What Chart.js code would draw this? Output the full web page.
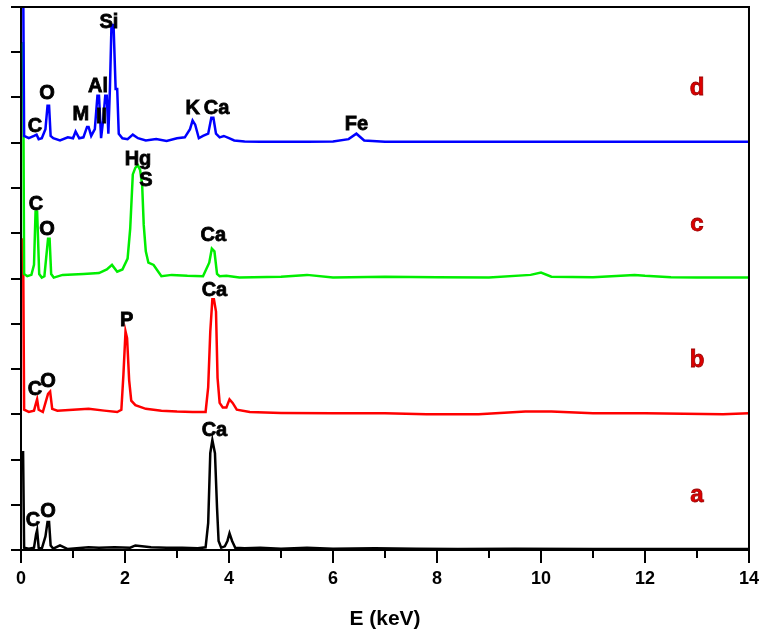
<!DOCTYPE html>
<html>
<head>
<meta charset="utf-8">
<script src="https://cdn.jsdelivr.net/npm/chart.js@4.4.0/dist/chart.umd.min.js"></script>
<style>
  html, body { margin: 0; padding: 0; background: #fff; }
  #wrap { width: 764px; height: 632px; }
</style>
</head>
<body>
<div id="wrap"><canvas id="edsChart" width="764" height="632"></canvas></div>
<script>
// EDS spectra (intensity in tick units above each baseline)
const aEnergy = [0.02, 0.04, 0.06, 0.15, 0.25, 0.29, 0.31, 0.34, 0.4, 0.47, 0.51, 0.54, 0.57, 0.62, 0.75, 0.9, 1.3, 1.5, 1.8, 2.1, 2.2, 2.5, 2.8, 3.1, 3.4, 3.55, 3.6, 3.64, 3.68, 3.73, 3.77, 3.8, 3.85, 3.92, 3.97, 4.01, 4.06, 4.12, 4.3, 4.6, 5.0, 5.5, 6.0, 6.8, 7.6, 8.4, 9.5, 11, 12.5, 14];
const aCounts = [2.16, 2.16, 0.05, 0.03, 0.05, 0.35, 0.44, 0.05, 0.03, 0.3, 0.62, 0.62, 0.1, 0.03, 0.1, 0.02, 0.06, 0.05, 0.06, 0.05, 0.1, 0.06, 0.05, 0.05, 0.04, 0.06, 0.6, 2.14, 2.43, 2.14, 0.93, 0.2, 0.05, 0.08, 0.2, 0.37, 0.2, 0.05, 0.04, 0.05, 0.03, 0.05, 0.03, 0.04, 0.03, 0.02, 0.03, 0.02, 0.02, 0.02];

const bEnergy = [0.02, 0.04, 0.06, 0.15, 0.25, 0.29, 0.31, 0.34, 0.42, 0.47, 0.52, 0.56, 0.6, 0.7, 1.0, 1.3, 1.6, 1.85, 1.93, 1.97, 2.01, 2.04, 2.08, 2.12, 2.2, 2.4, 2.7, 3.0, 3.3, 3.55, 3.6, 3.64, 3.68, 3.71, 3.75, 3.78, 3.82, 3.88, 3.95, 4.01, 4.07, 4.15, 4.4, 5.0, 6.0, 7.0, 7.8, 8.8, 9.7, 10.2, 11, 12, 13.5, 14];
const bCounts = [3.86, 3.86, 0.1, 0.05, 0.08, 0.25, 0.33, 0.1, 0.05, 0.25, 0.45, 0.5, 0.12, 0.08, 0.1, 0.12, 0.08, 0.05, 0.1, 0.88, 1.83, 1.68, 0.75, 0.3, 0.2, 0.12, 0.08, 0.06, 0.05, 0.05, 0.6, 1.83, 2.54, 2.54, 2.27, 0.8, 0.25, 0.15, 0.15, 0.33, 0.25, 0.1, 0.05, 0.03, 0.02, 0.02, 0.0, 0.0, 0.06, 0.06, 0.02, 0.02, 0.0, 0.02];

const cEnergy = [0.02, 0.04, 0.06, 0.12, 0.2, 0.25, 0.28, 0.31, 0.35, 0.4, 0.45, 0.49, 0.52, 0.55, 0.58, 0.63, 0.8, 1.2, 1.5, 1.65, 1.75, 1.85, 1.95, 2.05, 2.1, 2.15, 2.2, 2.25, 2.29, 2.33, 2.36, 2.4, 2.45, 2.55, 2.7, 2.9, 3.2, 3.5, 3.62, 3.67, 3.72, 3.77, 3.82, 3.95, 4.2, 5.0, 5.5, 6.0, 7.0, 8.0, 9.0, 9.8, 10.0, 10.2, 11.0, 11.8, 12.0, 12.5, 13.0, 14];
const cCounts = [5.2, 5.2, 0.1, 0.05, 0.08, 0.3, 1.48, 1.48, 0.1, 0.02, 0.05, 0.53, 0.88, 0.88, 0.1, 0.02, 0.08, 0.1, 0.12, 0.2, 0.3, 0.15, 0.2, 0.44, 1.1, 2.3, 2.45, 2.5, 2.4, 2.07, 1.19, 0.6, 0.35, 0.3, 0.05, 0.08, 0.06, 0.05, 0.35, 0.66, 0.6, 0.1, 0.05, 0.06, 0.02, 0.04, 0.08, 0.02, 0.04, 0.03, 0.02, 0.08, 0.13, 0.04, 0.03, 0.08, 0.06, 0.03, 0.02, 0.02];

const dEnergy = [0.02, 0.04, 0.06, 0.15, 0.25, 0.3, 0.34, 0.4, 0.47, 0.51, 0.54, 0.57, 0.62, 0.75, 0.9, 1.0, 1.05, 1.12, 1.2, 1.27, 1.3, 1.35, 1.42, 1.47, 1.5, 1.54, 1.58, 1.62, 1.65, 1.68, 1.71, 1.74, 1.78, 1.82, 1.85, 1.88, 1.95, 2.05, 2.15, 2.25, 2.4, 2.6, 2.8, 3.0, 3.15, 3.25, 3.3, 3.35, 3.42, 3.5, 3.6, 3.66, 3.7, 3.75, 3.82, 3.9, 4.0, 4.1, 4.3, 4.6, 5.0, 5.5, 6.0, 6.3, 6.45, 6.6, 7.0, 8.0, 9.0, 10.0, 11.0, 12.0, 13.0, 14];
const dCounts = [4, 4, 0.15, 0.1, 0.15, 0.18, 0.08, 0.1, 0.3, 0.82, 0.82, 0.15, 0.1, 0.05, 0.12, 0.1, 0.25, 0.1, 0.12, 0.35, 0.35, 0.15, 0.3, 1.04, 1.04, 0.1, 0.5, 1.04, 1.04, 0.2, 1.2, 2.6, 2.6, 1.19, 1.19, 0.2, 0.1, 0.08, 0.18, 0.1, 0.05, 0.08, 0.04, 0.1, 0.12, 0.3, 0.49, 0.4, 0.1, 0.15, 0.2, 0.55, 0.55, 0.2, 0.12, 0.15, 0.1, 0.05, 0.03, 0.02, 0.02, 0.02, 0.03, 0.08, 0.2, 0.05, 0.02, 0.02, 0.02, 0.02, 0.02, 0.02, 0.02, 0.02];

// element labels: [text, energy, height in tick units]
const peakLabels = [
  ['Si', 1.69, 11.65], ['O', 0.5, 10.08], ['C', 0.27, 9.35], ['M', 1.15, 9.62],
  ['ll', 1.55, 9.55], ['Al', 1.48, 10.24], ['K', 3.3, 9.75], ['Ca', 3.76, 9.75],
  ['Fe', 6.45, 9.4],
  ['Hg', 2.25, 8.63], ['S', 2.4, 8.16], ['C', 0.29, 7.63], ['O', 0.5, 7.08], ['Ca', 3.7, 6.95],
  ['Ca', 3.72, 5.74], ['P', 2.03, 5.07], ['C', 0.27, 3.55], ['O', 0.52, 3.73],
  ['Ca', 3.72, 2.65], ['C', 0.23, 0.66], ['O', 0.52, 0.86],
];
const sampleTags = ['a', 'b', 'c', 'd'];
const sampleColors = ['#000000', '#ff0000', '#00ee00', '#0000ff'];
const xTicks = [0, 14];
const yRange = [0, 12];
const bandStep = 3;

function series(energy, counts, band) {
  return energy.map((e, i) => ({ x: e, y: counts[i] + band * bandStep }));
}

const fontFace = '"Liberation Sans", Arial, sans-serif';

const labelPlugin = {
  id: 'labels',
  afterDatasetsDraw(chart) {
    const { ctx, scales: { x, y }, chartArea } = chart;
    ctx.save();
    // top and right frame
    ctx.strokeStyle = '#000';
    ctx.lineWidth = 2;
    ctx.beginPath();
    ctx.moveTo(chartArea.left, chartArea.top);
    ctx.lineTo(chartArea.right, chartArea.top);
    ctx.lineTo(chartArea.right, chartArea.bottom);
    ctx.stroke();

    ctx.textAlign = 'center';
    ctx.textBaseline = 'middle';
    ctx.lineWidth = 0.8;
    ctx.fillStyle = '#000';
    ctx.strokeStyle = '#000';
    ctx.font = 'bold 20px ' + fontFace;
    peakLabels.forEach(([t, e, h]) => {
      const px = x.getPixelForValue(e), py = y.getPixelForValue(h);
      ctx.fillText(t, px, py);
      ctx.strokeText(t, px, py);
    });
    ctx.fillStyle = '#dd0000';
    ctx.strokeStyle = '#990000';
    ctx.font = 'bold 24px ' + fontFace;
    sampleTags.forEach((t, i) => {
      const px = x.getPixelForValue(13), py = y.getPixelForValue(1.2 + i * bandStep);
      ctx.fillText(t, px, py);
      ctx.strokeText(t, px, py);
    });
    ctx.restore();
  },
};

const ctx = document.getElementById('edsChart').getContext('2d');
new Chart(ctx, {
  type: 'line',
  data: {
    datasets: [
      { label: 'd', data: series(dEnergy, dCounts, 3), borderColor: sampleColors[3] },
      { label: 'c', data: series(cEnergy, cCounts, 2), borderColor: sampleColors[2] },
      { label: 'b', data: series(bEnergy, bCounts, 1), borderColor: sampleColors[1] },
      { label: 'a', data: series(aEnergy, aCounts, 0), borderColor: sampleColors[0] },
    ],
  },
  options: {
    responsive: false,
    animation: false,
    devicePixelRatio: 1,
    layout: { padding: { top: 7, right: 12, left: 0, bottom: 0 } },
    elements: {
      point: { radius: 0 },
      line: { borderWidth: 2.5, tension: 0 },
    },
    plugins: {
      legend: { display: false },
      tooltip: { enabled: false },
    },
    scales: {
      x: {
        type: 'linear',
        min: xTicks[0],
        max: xTicks[1],
        afterFit: (s) => { s.height = 82; },
        border: { color: '#000', width: 2 },
        grid: {
          drawOnChartArea: false,
          color: '#000',
          lineWidth: 2,
          tickLength: 13,
          tickBorderDash: (c) => (c.tick && c.tick.value % 2 === 0 ? [] : [7, 20]),
        },
        ticks: {
          stepSize: 1,
          autoSkip: false,
          maxRotation: 0,
          padding: 5,
          color: '#000',
          font: { family: fontFace, size: 18, weight: 'bold' },
          callback: (v) => (v % 2 === 0 ? v : ''),
        },
        title: {
          display: true,
          text: 'E (keV)',
          color: '#000',
          font: { family: fontFace, size: 21, weight: 'bold' },
          padding: { top: 0, bottom: 0 },
        },
      },
      y: {
        min: yRange[0],
        max: yRange[1],
        afterFit: (s) => { s.width = 21; },
        border: { color: '#000', width: 2 },
        grid: {
          drawOnChartArea: false,
          color: '#000',
          lineWidth: 2,
          tickLength: 10,
        },
        ticks: { display: false, stepSize: 1 },
      },
    },
  },
  plugins: [labelPlugin],
});
</script>
</body>
</html>
